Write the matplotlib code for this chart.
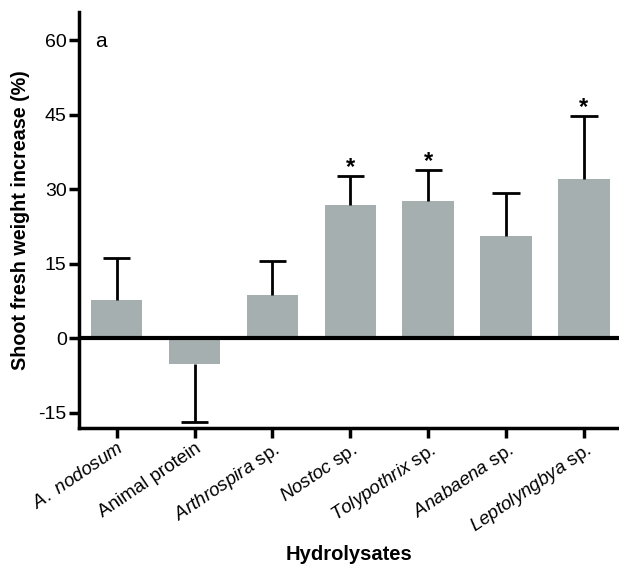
import matplotlib

matplotlib.use("Agg")
import matplotlib.pyplot as plt
import numpy as np

plt.rcParams["font.family"] = ["Liberation Sans", "DejaVu Sans"]
plt.rcParams["mathtext.fontset"] = "custom"
plt.rcParams["mathtext.rm"] = "Liberation Sans"
plt.rcParams["mathtext.it"] = "Liberation Sans:italic"

# --- data ------------------------------------------------------------------
labels = [
    r"$\it{A.\ nodosum}$",
    "Animal protein",
    r"$\it{Arthrospira}$ sp.",
    r"$\it{Nostoc}$ sp.",
    r"$\it{Tolypothrix}$ sp.",
    r"$\it{Anabaena}$ sp.",
    r"$\it{Leptolyngbya}$ sp.",
]
means = [7.7, -5.2, 8.8, 26.9, 27.6, 20.6, 32.0]
errors = [8.4, 11.6, 6.7, 5.7, 6.2, 8.6, 12.8]
significant = [False, False, False, True, True, False, True]
yticks = [-15, 0, 15, 30, 45, 60]

bar_color = "#a6afaf"

fig = plt.figure(figsize=(6.19, 5.68), dpi=100)
ax = fig.add_axes([0.128, 0.247, 0.872, 0.732])

x = np.arange(len(labels))
means_arr = np.array(means)
err_arr = np.array(errors)
# one-sided error bars: up for positive bars, down for negative ones
ends = np.where(means_arr < 0, means_arr - err_arr, means_arr + err_arr)

ax.bar(x, means, width=0.66, color=bar_color, zorder=2)
ax.vlines(x, means_arr, ends, color="black", lw=2, zorder=3)
ax.hlines(ends, x - 0.175, x + 0.175, color="black", lw=2, zorder=3)

for xi, end, sig in zip(x, ends, significant):
    if sig:
        ax.annotate("*", (xi, end), xytext=(0, -2), textcoords="offset points",
                    ha="center", va="bottom", fontsize=17, fontweight="bold")

ax.axhline(0, color="black", lw=3, zorder=4)

ax.set_xlim(-0.48, 6.45)
ax.set_ylim(-18, 65.7)
ax.set_yticks(yticks)
ax.set_yticklabels([str(t) for t in yticks], fontsize=14)
ax.set_xticks(x)
ax.set_xticklabels(labels, rotation=34, ha="right", rotation_mode="anchor",
                   fontsize=13.5)

for side in ("top", "right"):
    ax.spines[side].set_visible(False)
for side in ("left", "bottom"):
    ax.spines[side].set_linewidth(2.5)
ax.tick_params(width=2.5, length=7, direction="out", pad=2)

ax.set_ylabel("Shoot fresh weight increase (%)", fontsize=14.2,
              fontweight="bold", labelpad=6)
ax.set_xlabel("Hydrolysates", fontsize=14.5, fontweight="bold", labelpad=6)

ax.text(0.03, 0.928, "a", transform=ax.transAxes, fontsize=15, va="center")

fig.savefig("out.png", dpi=100)
